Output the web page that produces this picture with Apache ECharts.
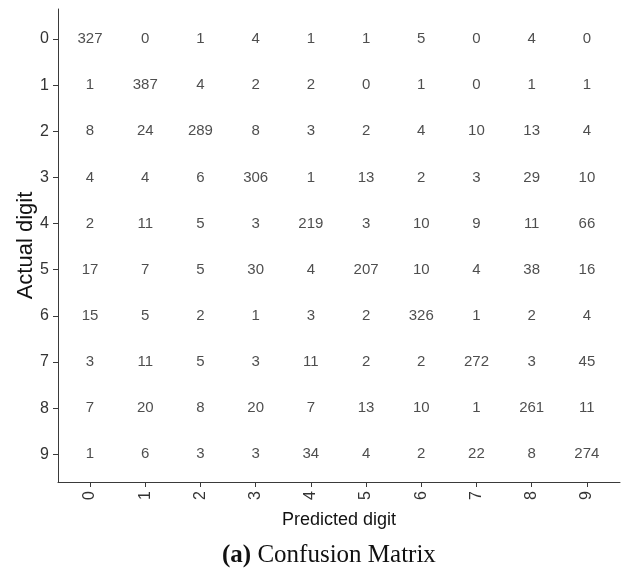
<!DOCTYPE html>
<html>
<head>
<meta charset="utf-8">
<script src="https://cdn.jsdelivr.net/npm/echarts@6/dist/echarts.min.js"></script>
<style>
  html, body { margin: 0; padding: 0; background: #fff; }
  #chart { width: 622px; height: 571px; }
</style>
</head>
<body>
<div id="chart"></div>
<script>
// digit classes on both axes
const digits = ["0", "1", "2", "3", "4", "5", "6", "7", "8", "9"];

// confusion matrix, one array per actual digit (columns = predicted digit)
const row0 = [327, 0, 1, 4, 1, 1, 5, 0, 4, 0];
const row1 = [1, 387, 4, 2, 2, 0, 1, 0, 1, 1];
const row2 = [8, 24, 289, 8, 3, 2, 4, 10, 13, 4];
const row3 = [4, 4, 6, 306, 1, 13, 2, 3, 29, 10];
const row4 = [2, 11, 5, 3, 219, 3, 10, 9, 11, 66];
const row5 = [17, 7, 5, 30, 4, 207, 10, 4, 38, 16];
const row6 = [15, 5, 2, 1, 3, 2, 326, 1, 2, 4];
const row7 = [3, 11, 5, 3, 11, 2, 2, 272, 3, 45];
const row8 = [7, 20, 8, 20, 7, 13, 10, 1, 261, 11];
const row9 = [1, 6, 3, 3, 34, 4, 2, 22, 8, 274];
const matrix = [row0, row1, row2, row3, row4, row5, row6, row7, row8, row9];

const chart = echarts.init(document.getElementById("chart"));

const sans = "'Liberation Sans', Arial, sans-serif";
const axisColor = "#3a3a3a";

// [predicted, actual, count]
const cells = [];
matrix.forEach((row, r) => {
  row.forEach((v, c) => cells.push([c, r, v]));
});
const tickPos = digits.map((d, i) => i);

const options = {
  animation: false,
  backgroundColor: "#fff",
  grid: { left: 58, right: 2, top: 9, bottom: 89 },
  title: {
    text: "{b|(a)} Confusion Matrix",
    left: 217,
    top: 538,
    textStyle: {
      fontFamily: "'Liberation Serif', serif",
      fontSize: 25,
      fontWeight: "normal",
      color: "#111",
      rich: {
        b: { fontFamily: "'Liberation Serif', serif", fontSize: 25, fontWeight: "bold", color: "#111" },
      },
    },
  },
  xAxis: {
    type: "value",
    min: -0.58,
    max: 9.6,
    name: "Predicted digit",
    nameLocation: "middle",
    nameGap: 29,
    nameMoveOverlap: false,
    nameTextStyle: { fontFamily: sans, fontSize: 18, color: "#111" },
    splitLine: { show: false },
    axisLine: { onZero: false, lineStyle: { color: axisColor, width: 1 } },
    axisTick: { length: 5, customValues: tickPos, lineStyle: { color: axisColor } },
    axisLabel: {
      customValues: tickPos,
      rotate: 90,
      margin: 9,
      fontFamily: sans,
      fontSize: 16,
      color: "#333",
      formatter: (v) => digits[Math.round(v)],
    },
  },
  yAxis: {
    type: "value",
    inverse: true,
    min: -0.65,
    max: 9.6,
    name: "Actual digit",
    nameLocation: "middle",
    nameGap: 21,
    nameMoveOverlap: false,
    nameTextStyle: { fontFamily: sans, fontSize: 22, color: "#111" },
    splitLine: { show: false },
    axisLine: { onZero: false, lineStyle: { color: axisColor, width: 1 } },
    axisTick: { length: 5, customValues: tickPos, lineStyle: { color: axisColor } },
    axisLabel: {
      customValues: tickPos,
      margin: 9,
      fontFamily: sans,
      fontSize: 16,
      color: "#333",
      formatter: (v) => digits[Math.round(v)],
    },
  },
  series: [
    {
      type: "scatter",
      data: cells,
      symbolSize: 1,
      itemStyle: { color: "rgba(0,0,0,0)" },
      label: {
        show: true,
        position: "inside",
        fontFamily: sans,
        fontSize: 15,
        color: "#222",
        formatter: (p) => String(p.value[2]),
      },
    },
  ],
};

chart.setOption(options);
</script>
</body>
</html>
